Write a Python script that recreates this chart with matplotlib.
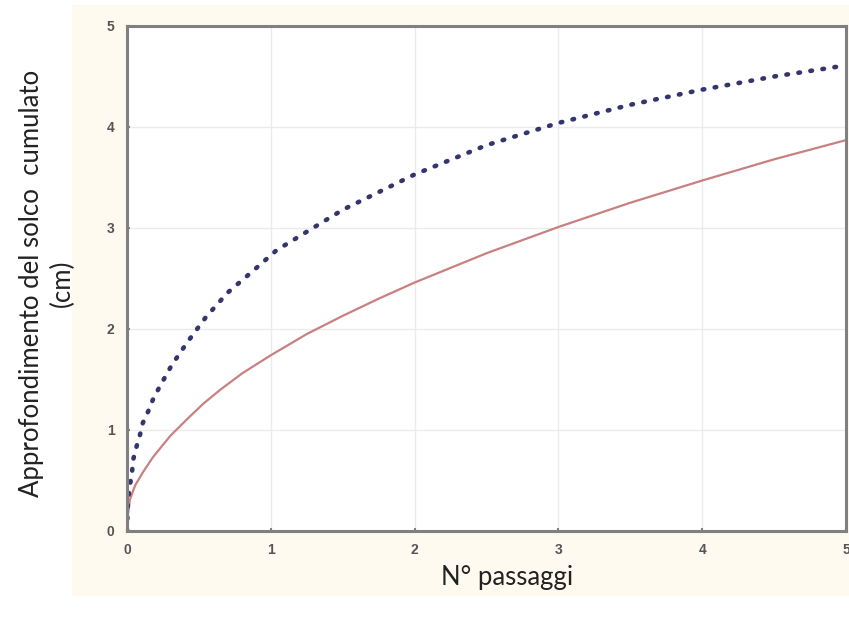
import matplotlib
matplotlib.use("Agg")
import matplotlib.pyplot as plt
from matplotlib.patches import Rectangle

# values
x_dot = [0, 0.005, 0.01, 0.02, 0.035, 0.042, 0.063, 0.09, 0.11, 0.146, 0.18,
         0.22, 0.31, 0.42, 0.55, 0.70, 0.88, 1.04, 1.5, 2.0, 2.5, 3.0, 3.5,
         4.0, 4.5, 5.0]
y_dot = [0, 0.23, 0.34, 0.45, 0.58, 0.70, 0.82, 0.95, 1.07, 1.18, 1.30,
         1.41, 1.64, 1.87, 2.12, 2.36, 2.58, 2.78, 3.18, 3.53, 3.82, 4.04, 4.22,
         4.37, 4.50, 4.61]

x_red = [0, 0.005, 0.02, 0.056, 0.11, 0.18, 0.30, 0.42, 0.53, 0.65, 0.8, 1.0,
         1.25, 1.5, 1.75, 2.0, 2.5, 3.0, 3.5, 4.0, 4.5, 5.0]
y_red = [0, 0.15, 0.31, 0.45, 0.58, 0.73, 0.94, 1.11, 1.26, 1.40, 1.56, 1.74,
         1.95, 2.13, 2.30, 2.46, 2.75, 3.01, 3.25, 3.47, 3.68, 3.87]

ticks = [0, 1, 2, 3, 4, 5]

NAVY = "#35356e"
RED = "#c98080"
SPINE = "#808080"
CREAM = "#fefaef"

fig = plt.figure(figsize=(8.49, 6.19), dpi=100)
fig.patches.append(Rectangle((72 / 849, 24 / 619), 1, 590 / 619,
                             transform=fig.transFigure, color=CREAM, zorder=-5))

ax = fig.add_axes([127 / 849, 88 / 619, 719 / 849, 505 / 619], zorder=2)
ax.set_facecolor("white")
ax.plot(x_red, y_red, color=RED, lw=1.6)
ax.plot(x_dot, y_dot, color=NAVY, lw=3.3, ls=(0, (0.35, 2.3)),
        dash_capstyle="round")

ax.set_xlim(0, 5)
ax.set_ylim(0, 5)
ax.set_xticks(ticks)
ax.set_yticks(ticks)
ax.grid(True, color="#ebebeb", lw=1.0)
ax.set_axisbelow(True)
for s in ax.spines.values():
    s.set_color(SPINE)
    s.set_linewidth(2.2)
ax.tick_params(direction="in", length=2, width=1.5, color=SPINE,
               labelsize=10, labelcolor="#555555", pad=9)
for lab in ax.get_xticklabels() + ax.get_yticklabels():
    lab.set_fontweight("bold")
    lab.set_family("Liberation Sans")

fig.text(47 / 849, 1 - 283 / 619,
         "Approfondimento del solco  cumulato\n(cm)",
         rotation=90, ha="center", va="center", multialignment="center",
         fontsize=18.5, family="Lato", color="#222222", linespacing=1.3)
fig.text(507 / 849, 1 - 578 / 619, "N° passaggi", ha="center", va="center",
         fontsize=18.5, family="Lato", color="#222222")

fig.savefig("out.png", dpi=100)
